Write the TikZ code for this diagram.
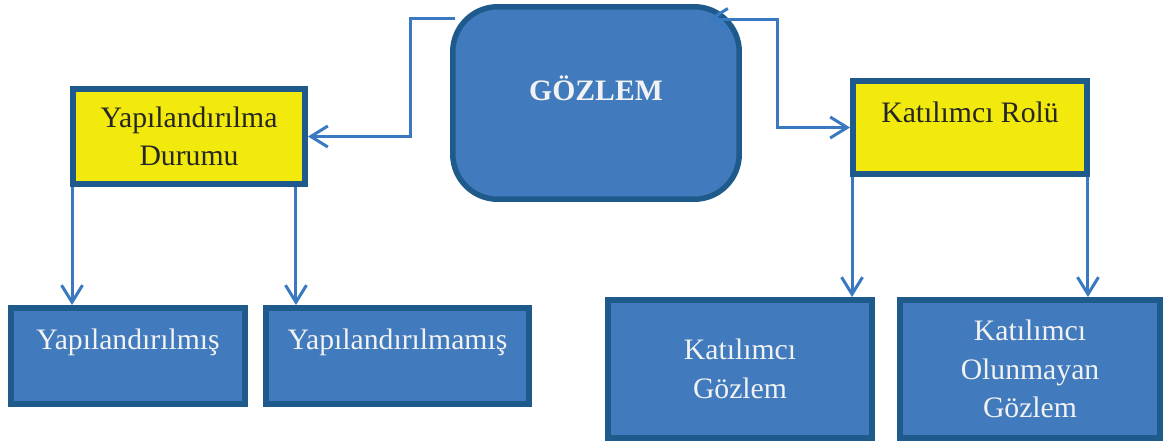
\documentclass[tikz,border=0pt]{standalone}
\usepackage{fontspec}
\setmainfont{Liberation Serif}
\usetikzlibrary{arrows.meta}
\definecolor{boxblue}{HTML}{417BBD}
\definecolor{edgeblue}{HTML}{1F5A8C}
\definecolor{lineblue}{HTML}{3A79C1}
\definecolor{boxyellow}{HTML}{F2EA0D}
\begin{document}
\begin{tikzpicture}[x=0.02cm, y=-0.02cm,
        bluebox/.style={draw=edgeblue, line width=0.11cm, fill=boxblue, text=white!95!black, align=center, font=\fontsize{16.9}{22}\selectfont},
        yellowbox/.style={draw=edgeblue, line width=0.11cm, fill=boxyellow, text=black!85, align=center, font=\fontsize{16.9}{22}\selectfont},
        conn/.style={draw=lineblue, line width=0.06cm, -{Straight Barb[length=0.34cm, width=0.42cm]}}]
        \useasboundingbox (0,0) rectangle (1165,443);
        % top level
        \node [bluebox, rounded corners=0.9cm, minimum width=5.73cm, minimum height=3.85cm, text depth=0.6cm, font=\fontsize{16.9}{22}\selectfont\bfseries] (goz) at (596,103) {GÖZLEM};
        \node [yellowbox, minimum width=4.65cm, minimum height=1.91cm] (dur) at (189,136.5) {Yapılandırılma\\Durumu};
        \node [yellowbox, minimum width=4.69cm, minimum height=1.87cm, text depth=0.6cm] (rol) at (970,127.5) {Katılımcı Rolü};
        % bottom level
        \node [bluebox, minimum width=4.69cm, minimum height=1.93cm, text depth=0.69cm] (ypl) at (128,356) {Yapılandırılmış};
        \node [bluebox, minimum width=5.27cm, minimum height=1.93cm, text depth=0.69cm] (ypm) at (397.5,356) {Yapılandırılmamış};
        \node [bluebox, minimum width=5.29cm, minimum height=2.77cm] (kgz) at (740,369) {Katılımcı\\Gözlem};
        \node [bluebox, minimum width=5.21cm, minimum height=2.77cm] (kog) at (1030,369) {Katılımcı\\Olunmayan\\Gözlem};
        % connectors
        \draw [conn] ([xshift=0.1cm,yshift=-0.28cm]goz.north west) -- ++(-0.9cm,0) |- (dur.east);
        \draw [conn, {Straight Barb[length=0.34cm, width=0.42cm]}-{Straight Barb[length=0.34cm, width=0.42cm]}] ([xshift=-0.68cm,yshift=-0.3cm]goz.north east) -- ++(1.4cm,0) |- (rol.west);
        \coordinate (d1) at ([xshift=0.04cm]dur.south west);
        \coordinate (d2) at ([xshift=-0.24cm]dur.south east);
        \coordinate (r1) at ([xshift=0.04cm]rol.south west);
        \coordinate (r2) at ([xshift=-0.04cm]rol.south east);
        \draw [conn] (d1) -- (d1 |- ypl.north);
        \draw [conn] (d2) -- (d2 |- ypm.north);
        \draw [conn] (r1) -- (r1 |- kgz.north);
        \draw [conn] (r2) -- (r2 |- kog.north);
    \end{tikzpicture}
\end{document}
